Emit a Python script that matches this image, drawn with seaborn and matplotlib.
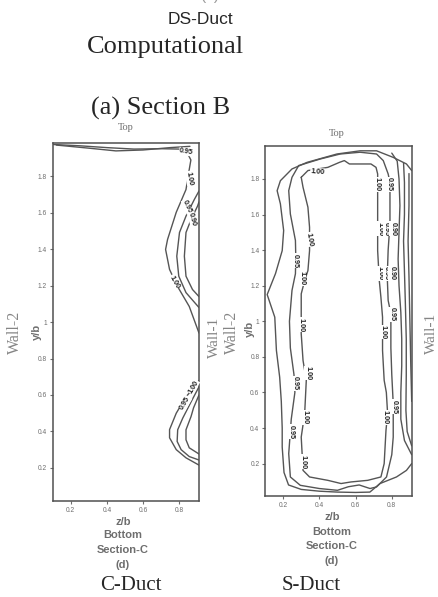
import matplotlib
matplotlib.use("Agg")
import matplotlib.pyplot as plt
import seaborn as sns

sns.set_style("white")
plt.rcParams['font.family'] = ['Liberation Sans', 'DejaVu Sans']

# ---- C-Duct contour lines (z/b, y/b) ----
c_top_z = [0.105, 0.25, 0.40, 0.55, 0.70, 0.80, 0.845, 0.865, 0.856, 0.838, 0.784, 0.736, 0.725, 0.747, 0.791, 0.856, 0.91]
c_top_y = [1.975, 1.968, 1.958, 1.950, 1.952, 1.950, 1.930, 1.890, 1.838, 1.728, 1.603, 1.454, 1.399, 1.289, 1.196, 1.086, 0.94]
c_top2_z = [0.12, 0.30, 0.45, 0.60, 0.75, 0.86]
c_top2_y = [1.972, 1.955, 1.940, 1.945, 1.958, 1.965]
c_mid_z = [0.91, 0.884, 0.838, 0.802, 0.787, 0.798, 0.838, 0.91]
c_mid_y = [1.72, 1.673, 1.582, 1.492, 1.362, 1.252, 1.162, 1.08]
c_in_z = [0.91, 0.902, 0.866, 0.838, 0.829, 0.838, 0.874, 0.91]
c_in_y = [1.66, 1.637, 1.563, 1.492, 1.362, 1.252, 1.179, 1.14]
c_b1_z = [0.91, 0.873, 0.838, 0.784, 0.747, 0.747, 0.784, 0.838, 0.91]
c_b1_y = [0.68, 0.63, 0.59, 0.50, 0.41, 0.365, 0.30, 0.255, 0.215]
c_b2_z = [0.91, 0.865, 0.82, 0.792, 0.789, 0.811, 0.856, 0.91]
c_b2_y = [0.645, 0.56, 0.473, 0.409, 0.345, 0.30, 0.262, 0.243]
c_b3_z = [0.91, 0.88, 0.866, 0.838, 0.838, 0.856, 0.91]
c_b3_y = [0.60, 0.53, 0.482, 0.409, 0.354, 0.31, 0.276]

c_lab_text = ["0.95", "1.00", "0.95", "0.90", "1.00", "1.00", "0.95"]
c_lab_z = [0.84, 0.858, 0.845, 0.874, 0.772, 0.878, 0.835]
c_lab_y = [1.935, 1.79, 1.635, 1.565, 1.22, 0.645, 0.555]
c_lab_rot = [-10, -80, -65, -75, -60, 60, 60]

# ---- S-Duct contour lines ----
s_100_z = [0.30, 0.31, 0.337, 0.346, 0.346, 0.337, 0.319, 0.30, 0.30, 0.31, 0.328, 0.319, 0.30, 0.31, 0.346, 0.447,
           0.52, 0.575, 0.667, 0.74, 0.758, 0.768, 0.777, 0.77, 0.758, 0.749, 0.749, 0.74, 0.731, 0.722, 0.722,
           0.722, 0.713, 0.685, 0.566, 0.538, 0.511, 0.447, 0.337, 0.30]
s_100_y = [1.809, 1.753, 1.641, 1.528, 1.397, 1.285, 1.229, 1.154, 0.93, 0.78, 0.668, 0.481, 0.349, 0.162, 0.125, 0.106,
           0.088, 0.097, 0.106, 0.125, 0.20, 0.387, 0.481, 0.60, 0.668, 0.836, 1.023, 1.135, 1.229, 1.397, 1.60,
           1.828, 1.865, 1.884, 1.884, 1.903, 1.893, 1.865, 1.847, 1.809]
s_095_z = [0.286, 0.249, 0.231, 0.24, 0.268, 0.27, 0.268, 0.249, 0.235, 0.24, 0.26, 0.265, 0.245, 0.231, 0.24, 0.295,
           0.40, 0.50, 0.56, 0.62, 0.68, 0.716, 0.771, 0.80, 0.808, 0.808, 0.80, 0.795, 0.795, 0.78, 0.775, 0.78,
           0.79, 0.79, 0.79, 0.78, 0.753, 0.716, 0.625, 0.515, 0.405, 0.286]
s_095_y = [1.875, 1.809, 1.734, 1.603, 1.454, 1.36, 1.267, 1.173, 1.0, 0.85, 0.70, 0.60, 0.45, 0.256, 0.125, 0.078,
           0.06, 0.05, 0.07, 0.08, 0.06, 0.069, 0.125, 0.25, 0.349, 0.537, 0.70, 0.85, 1.042, 1.117, 1.25, 1.40,
           1.55, 1.64, 1.78, 1.828, 1.903, 1.94, 1.95, 1.94, 1.912, 1.875]
s_out_z = [0.91, 0.881, 0.808, 0.716, 0.625, 0.497, 0.332, 0.249, 0.185, 0.167, 0.185, 0.203, 0.195, 0.158, 0.112,
           0.154, 0.163, 0.181, 0.19, 0.195, 0.195, 0.205, 0.23, 0.30, 0.40, 0.50, 0.60, 0.679, 0.735, 0.826,
           0.881, 0.91]
s_out_y = [1.847, 1.884, 1.921, 1.958, 1.958, 1.94, 1.893, 1.856, 1.79, 1.734, 1.66, 1.51, 1.397, 1.268, 1.15,
           1.023, 0.836, 0.686, 0.55, 0.40, 0.293, 0.15, 0.08, 0.055, 0.045, 0.04, 0.038, 0.04, 0.088, 0.125,
           0.162, 0.20]
s_ra_z = [0.80, 0.83, 0.84, 0.845, 0.84, 0.835, 0.84, 0.85, 0.855, 0.855, 0.85, 0.85, 0.87, 0.91]
s_ra_y = [1.945, 1.90, 1.80, 1.65, 1.50, 1.35, 1.20, 1.05, 0.90, 0.75, 0.60, 0.45, 0.33, 0.25]
s_rb_z = [0.865, 0.87, 0.87, 0.865, 0.87, 0.875, 0.88, 0.88, 0.878, 0.885, 0.91]
s_rb_y = [1.89, 1.78, 1.60, 1.45, 1.28, 1.10, 0.90, 0.70, 0.50, 0.38, 0.30]
s_rc_z = [0.895, 0.895, 0.89, 0.895, 0.90, 0.905, 0.91]
s_rc_y = [1.83, 1.65, 1.45, 1.25, 1.00, 0.75, 0.55]

s_lab_text = ["1.00", "1.00", "0.95", "1.00", "0.95", "0.90", "1.00", "0.95", "0.90", "0.95", "1.00",
              "1.00", "0.95", "1.00", "1.00", "1.00", "0.95", "1.00", "0.95", "1.00", "1.00", "0.95"]
s_lab_z = [0.39, 0.72, 0.785, 0.735, 0.772, 0.808, 0.735, 0.77, 0.80, 0.80, 0.749,
           0.346, 0.268, 0.305, 0.30, 0.335, 0.268, 0.319, 0.245, 0.31, 0.762, 0.815]
s_lab_y = [1.84, 1.77, 1.77, 1.52, 1.52, 1.52, 1.27, 1.27, 1.27, 1.04, 0.94,
           1.46, 1.34, 1.24, 0.98, 0.71, 0.65, 0.46, 0.38, 0.21, 0.46, 0.52]
s_lab_rot = [-5, -90, -90, -90, -90, -90, -90, -90, -90, -90, -90,
             -80, -90, -90, -90, -90, -90, -90, -90, -90, -90, -90]

x_ticks = [0.2, 0.4, 0.6, 0.8]
y_ticks = [0.2, 0.4, 0.6, 0.8, 1.0, 1.2, 1.4, 1.6, 1.8]
y_tick_labels = ["0.2", "0.4", "0.6", "0.8", "1", "1.2", "1.4", "1.6", "1.8"]

W, H = 438, 597
fig = plt.figure(figsize=(W / 100, H / 100), dpi=100)


def px(x, y):
    return x / W, 1 - y / H


line_col = "#555555"
grey = "#6e6e6e"


def setup(ax):
    ax.set_xlim(0.1, 0.91)
    ax.set_ylim(0.018, 1.985)
    ax.set_xticks(x_ticks)
    ax.set_xticklabels([f"{t:.1f}" for t in x_ticks])
    ax.set_yticks(y_ticks)
    ax.set_yticklabels(y_tick_labels)
    ax.tick_params(direction="out", length=2.5, width=0.8, color=grey,
                   labelsize=4.8, labelcolor=grey, pad=1.5,
                   bottom=True, left=True)
    for s in ax.spines.values():
        s.set_color("#505050")
        s.set_linewidth(1.1)
    ax.set_xlabel("")
    ax.set_ylabel("")


def draw(ax, z, y):
    sns.lineplot(x=z, y=y, sort=False, estimator=None, color=line_col,
                 linewidth=1.0, ax=ax)


def labels(ax, texts, zs, ys, rots):
    for t, z, y, r in zip(texts, zs, ys, rots):
        ax.text(z, y, t, rotation=r, fontsize=5.2, fontweight="bold",
                color="#222222", ha="center", va="center",
                bbox=dict(facecolor="white", edgecolor="none", pad=0.2))


# left panel: C-Duct
ax1 = fig.add_axes([52.7 / W, 1 - 501 / H, 146.3 / W, 358.3 / H])
for z, y in [(c_top_z, c_top_y), (c_top2_z, c_top2_y), (c_mid_z, c_mid_y), (c_in_z, c_in_y),
             (c_b1_z, c_b1_y), (c_b2_z, c_b2_y), (c_b3_z, c_b3_y)]:
    draw(ax1, z, y)
labels(ax1, c_lab_text, c_lab_z, c_lab_y, c_lab_rot)
setup(ax1)

# right panel: S-Duct
ax2 = fig.add_axes([265 / W, 1 - 496 / H, 146.7 / W, 350 / H])
for z, y in [(s_100_z, s_100_y), (s_095_z, s_095_y), (s_out_z, s_out_y),
             (s_ra_z, s_ra_y), (s_rb_z, s_rb_y), (s_rc_z, s_rc_y)]:
    draw(ax2, z, y)
labels(ax2, s_lab_text, s_lab_z, s_lab_y, s_lab_rot)
setup(ax2)

serif = ["Liberation Serif", "DejaVu Serif"]

# headings (the "(c)" above is cut by the page edge in the scan)
fig.text(*px(210, -4), "(c)", fontsize=11, color="#999999", ha="center", va="center")
fig.text(*px(200, 24), "DS-Duct", fontsize=12.5, ha="center", va="baseline")
fig.text(*px(165, 53), "Computational", fontsize=19, family=serif, ha="center", va="baseline")
fig.text(*px(161, 115), "(a) Section B", fontsize=19, family=serif, ha="center", va="baseline")
fig.text(*px(126, 128), "Top", fontsize=7.5, family=serif, color=grey, ha="center", va="center")
fig.text(*px(337, 134), "Top", fontsize=7.5, family=serif, color=grey, ha="center", va="center")

# side labels
for x, y in [(15, 332), (232, 332)]:
    fig.text(*px(x, y), "Wall-2", fontsize=11.5, family=serif, color="#858585",
             rotation=90, ha="center", va="center")
for x, y in [(214, 337), (431, 333)]:
    fig.text(*px(x, y), "Wall-1", fontsize=11, family=serif, color="#858585",
             rotation=90, ha="center", va="center")
for x, y in [(37, 332), (250, 329)]:
    fig.text(*px(x, y), "y/b", fontsize=8, fontweight="bold", color=grey,
             rotation=90, ha="center", va="center")

# bottom labels
for cx, ys in [(123, [522, 535, 550, 565]), (332, [517, 532, 546, 561])]:
    for t, y in zip(["z/b", "Bottom", "Section-C", "(d)"], ys):
        fig.text(*px(cx, y), t, fontsize=8, fontweight="bold", color=grey,
                 ha="center", va="center")

fig.text(*px(131, 590), "C-Duct", fontsize=15, family=serif, ha="center", va="baseline")
fig.text(*px(311, 590), "S-Duct", fontsize=15, family=serif, ha="center", va="baseline")

fig.savefig("out.png", dpi=100)
